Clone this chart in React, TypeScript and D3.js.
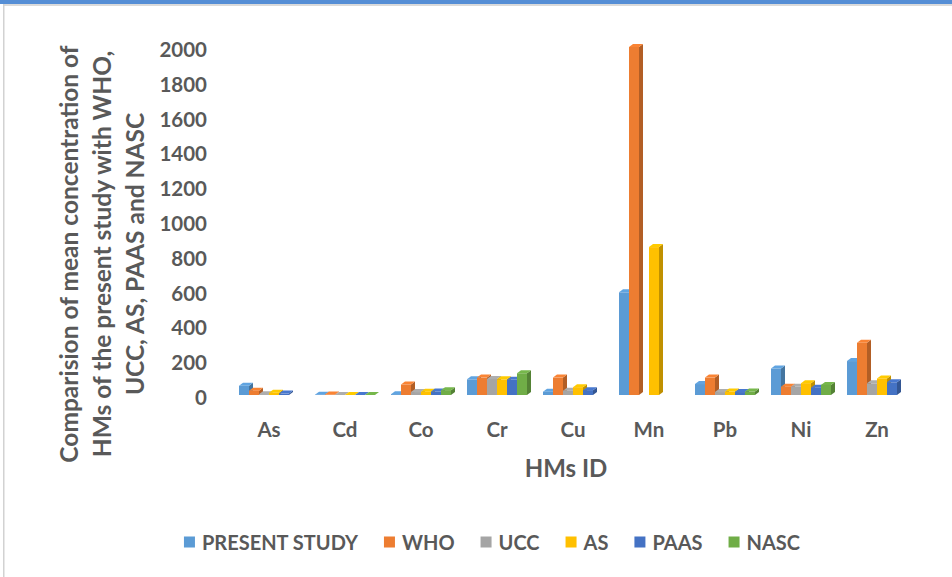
import React, { useEffect, useRef } from 'react';
import * as d3 from 'd3';

const W = 952;
const H = 577;

const categories = ['As', 'Cd', 'Co', 'Cr', 'Cu', 'Mn', 'Pb', 'Ni', 'Zn'];
const seriesNames = ['PRESENT STUDY', 'WHO', 'UCC', 'AS', 'PAAS', 'NASC'];
const seriesColors = ['#5B9BD5', '#ED7D31', '#A5A5A5', '#FFC000', '#4472C4', '#70AD47'];

// values (null = no bar drawn)
const presentStudy = [53, 2, 5, 90, 19, 590, 63, 152, 195];
const who = [25, 3, 60, 100, 100, 2000, 100, 48, 300];
const ucc = [5, 0.1, 17, 92, 25, null, 17, 47, 67];
const avgShale = [13, 0.3, 19, 90, 45, 850, 20, 68, 95];
const paas = [8, 0.1, 20, 87, 28, null, 17, 42, 73];
const nasc = [null, 0.2, 28, 125, null, null, 20, 58, null];

const yTicks = [0, 200, 400, 600, 800, 1000, 1200, 1400, 1600, 1800, 2000];
const yTitleLines = [
  'Comparision of mean concentration of',
  'HMs of the present study with WHO,',
  'UCC, AS, PAAS and NASC'
];
const xTitle = 'HMs ID';

const FONT = 'Lato, Carlito, Calibri, sans-serif';
const TEXT = '#595959';

const App: React.FC = () => {
  const svgRef = useRef<SVGSVGElement>(null);

  useEffect(() => {
    document.body.style.margin = '0';
    if (!svgRef.current) return;
    const svg = d3.select(svgRef.current);
    svg.selectAll('*').remove();

    // frame
    svg.append('rect').attr('x', 0).attr('y', 0).attr('width', W).attr('height', H).attr('fill', '#fff');
    svg.append('rect').attr('x', 0).attr('y', 0).attr('width', W).attr('height', 4).attr('fill', '#558ED5');
    svg.append('rect').attr('x', 3).attr('y', 4).attr('width', W).attr('height', 2).attr('fill', '#dadada');
    svg.append('rect').attr('x', 3).attr('y', 4).attr('width', 1.5).attr('height', H).attr('fill', '#d2d2d2');

    const allSeries = [presentStudy, who, ucc, avgShale, paas, nasc];

    const x0 = d3.scaleBand().domain(categories).range([231, 915]);
    const groupW = 60;
    const bw = x0.bandwidth();
    const x1 = d3.scaleBand().domain(seriesNames).range([(bw - groupW) / 2, (bw + groupW) / 2]);
    const y = d3.scaleLinear().domain([0, 2000]).range([395, 47]);

    const dx = 4;
    const dy = 3;

    // y tick labels
    svg.append('g')
      .selectAll('text')
      .data(yTicks)
      .join('text')
      .attr('x', 207)
      .attr('y', d => y(d) + 2)
      .attr('text-anchor', 'end')
      .attr('dominant-baseline', 'central')
      .attr('font-family', FONT)
      .attr('font-weight', 700)
      .attr('font-size', 20.5)
      .attr('fill', TEXT)
      .text(d => d);

    // bars
    const g = svg.append('g');
    categories.forEach((cat, ci) => {
      seriesNames.forEach((s, si) => {
        const v = allSeries[si][ci];
        if (v === null || v === undefined) return;
        const bx = (x0(cat) || 0) + (x1(s) || 0);
        const w = x1.bandwidth();
        const top = y(v);
        const base = y(0);
        const color = seriesColors[si];
        const darker = d3.rgb(color).darker(0.8).toString();
        const lighter = d3.rgb(color).brighter(0.15).toString();

        // side face
        g.append('path')
          .attr('d', `M ${bx + w} ${top} L ${bx + w + dx} ${top - dy} L ${bx + w + dx} ${base - dy} L ${bx + w} ${base} Z`)
          .attr('fill', darker);
        // top face
        g.append('path')
          .attr('d', `M ${bx} ${top} L ${bx + dx} ${top - dy} L ${bx + w + dx} ${top - dy} L ${bx + w} ${top} Z`)
          .attr('fill', lighter);
        // front face
        g.append('rect')
          .attr('x', bx)
          .attr('y', top)
          .attr('width', w)
          .attr('height', Math.max(0, base - top))
          .attr('fill', color);
      });
    });

    // category labels
    svg.append('g')
      .selectAll('text')
      .data(categories)
      .join('text')
      .attr('x', d => (x0(d) || 0) + bw / 2)
      .attr('y', 429)
      .attr('text-anchor', 'middle')
      .attr('dominant-baseline', 'central')
      .attr('font-family', FONT)
      .attr('font-weight', 700)
      .attr('font-size', 20.5)
      .attr('fill', TEXT)
      .text(d => d);

    // axis titles
    svg.append('text')
      .attr('x', 566)
      .attr('y', 467)
      .attr('text-anchor', 'middle')
      .attr('dominant-baseline', 'central')
      .attr('font-family', FONT)
      .attr('font-weight', 700)
      .attr('font-size', 24)
      .attr('fill', TEXT)
      .text(xTitle);

    const yt = svg.append('g').attr('transform', 'translate(101, 254) rotate(-90)');
    yTitleLines.forEach((line, i) => {
      yt.append('text')
        .attr('x', 0)
        .attr('y', (i - 1) * 33)
        .attr('text-anchor', 'middle')
        .attr('dominant-baseline', 'central')
        .attr('font-family', FONT)
        .attr('font-weight', 700)
        .attr('font-size', 24.5)
        .attr('fill', TEXT)
        .text(line);
    });

    // legend
    const leg = svg.append('g');
    const sq = 11;
    const textGap = 7;
    const itemGap = 26;
    const items = seriesNames.map((name, i) => {
      const t = leg.append('text')
        .attr('y', 542)
        .attr('dominant-baseline', 'central')
        .attr('font-family', FONT)
        .attr('font-weight', 700)
        .attr('font-size', 20)
        .attr('fill', TEXT)
        .text(name);
      const r = leg.append('rect')
        .attr('y', 542 - sq / 2)
        .attr('width', sq)
        .attr('height', sq)
        .attr('fill', seriesColors[i]);
      const tw = (t.node() as SVGTextElement).getComputedTextLength();
      return { t, r, tw };
    });
    const total = d3.sum(items, d => sq + textGap + d.tw) + itemGap * (items.length - 1);
    let cx = 492 - total / 2;
    items.forEach(it => {
      it.r.attr('x', cx);
      it.t.attr('x', cx + sq + textGap);
      cx += sq + textGap + it.tw + itemGap;
    });
  }, []);

  return <svg ref={svgRef} width={W} height={H} viewBox={`0 0 ${W} ${H}`} style={{ display: 'block' }} />;
};

export default App;
